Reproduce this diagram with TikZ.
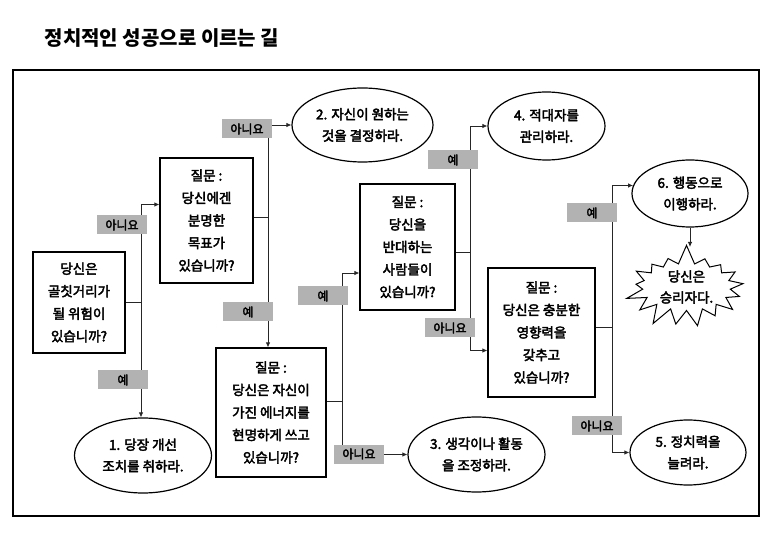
\documentclass[tikz,border=0pt]{standalone}
\usepackage{fontspec}
\setmainfont{Noto Sans CJK KR}
\newfontfamily\krmed{Noto Sans CJK KR}[FakeBold=3]
\usetikzlibrary{positioning, arrows.meta, shapes.geometric, shapes.symbols}

\begin{document}
\begin{tikzpicture}[x=1pt, y=-1pt,
    box/.style={draw, line width=1.2pt, align=center, inner sep=2pt,
      font=\krmed\fontsize{13.5}{22.5}\selectfont},
    goal/.style={draw, ellipse, line width=1.2pt, align=center, inner sep=0pt,
      font=\krmed\fontsize{13.5}{21.5}\selectfont},
    tag/.style={fill=black!30, inner sep=0pt, minimum width=50pt, minimum height=19pt,
      font=\krmed\fontsize{12}{12}\selectfont},
    line/.style={line width=0.8pt, black!85},
    arr/.style={line, -{Latex[length=5pt, width=4.5pt]}}]
    \useasboundingbox (0,0) rectangle (777,537);
    \node[font=\fontsize{20}{20}\selectfont\bfseries] (title) at (162,38) {정치적인 성공으로 이르는 길};
    \draw[line width=1.3pt] (13,70) rectangle (759,516);
    % questions
    \node[box, minimum width=92pt, minimum height=101pt]  (risk)   at (79,302.5)  {당신은\\골칫거리가\\될 위험이\\있습니까?};
    \node[box, minimum width=93pt, minimum height=125pt]  (aim)    at (206.5,220.5) {질문 :\\당신에겐\\분명한\\목표가\\있습니까?};
    \node[box, minimum width=110pt, minimum height=129pt] (energy) at (271,412.5) {질문 :\\당신은 자신이\\가진 에너지를\\현명하게 쓰고\\있습니까?};
    \node[box, minimum width=95pt, minimum height=126pt]  (oppose) at (407.5,247) {질문 :\\당신을\\반대하는\\사람들이\\있습니까?};
    \node[box, minimum width=107pt, minimum height=129pt] (power)  at (541.5,332.5) {질문 :\\당신은 충분한\\영향력을\\갖추고\\있습니까?};
    % answers
    \node[goal, minimum width=137pt, minimum height=75pt] (fix)    at (143,455.5) {1. 당장 개선\\조치를 취하라.};
    \node[goal, minimum width=141pt, minimum height=74pt] (decide) at (362.5,125) {2. 자신이 원하는\\것을 결정하라.};
    \node[goal, minimum width=137pt, minimum height=75pt] (adjust) at (476.5,454.5) {3. 생각이나 활동\\을 조정하라.};
    \node[goal, minimum width=117pt, minimum height=68pt] (manage) at (546.5,126) {4. 적대자를\\관리하라.};
    \node[goal, minimum width=116pt, minimum height=65pt] (grow)   at (688,452.5) {5. 정치력을\\늘려라.};
    \node[goal, minimum width=116pt, minimum height=67pt] (act)    at (690,193.5) {6. 행동으로\\이행하라.};
    \node[starburst, draw, line width=1pt, starburst points=17, starburst point height=20pt,
      random starburst=7, minimum width=128pt, minimum height=75pt, inner sep=0pt, align=center,
      font=\krmed\fontsize{13.5}{21}\selectfont] (win) at (686.5,287) {당신은\\승리자다.};
    % branch lines
    \coordinate (s1) at (141,0);
    \coordinate (s2) at (268,0);
    \coordinate (s3) at (342,0);
    \coordinate (s4) at (470,0);
    \coordinate (s5) at (612,0);
    \draw[line] (risk.east) -- (risk.east -| s1) coordinate (b1);
    \draw[arr] (b1) |- ([yshift=16pt]aim.west);
    \draw[arr] (b1) -- (b1 |- fix.north);
    \draw[line] ([yshift=3pt]aim.east) -- ([yshift=3pt]aim.east -| s2) coordinate (b2);
    \draw[arr] (b2) |- (decide.west);
    \draw[arr] (b2) -- (b2 |- energy.north);
    \draw[line] ([yshift=11pt]energy.east) -- ([yshift=11pt]energy.east -| s3) coordinate (b3);
    \draw[arr] (b3) |- ([yshift=-26pt]oppose.west);
    \draw[arr] (b3) |- (adjust.west);
    \draw[line] ([yshift=-5pt]oppose.east) -- ([yshift=-5pt]oppose.east -| s4) coordinate (b4);
    \draw[arr] (b4) |- (manage.west);
    \draw[arr] (b4) |- ([yshift=-18pt]power.west);
    \draw[line] ([yshift=5pt]power.east) -- ([yshift=5pt]power.east -| s5) coordinate (b5);
    \draw[arr] (b5) |- (act.172);
    \draw[arr] (b5) |- (grow.west);
    \draw[arr] (act.south) -- (act.south |- 0,247);
    % yes / no tags
    \node[tag] (no1)  at (122,225) {아니요};
    \node[tag] (yes1) at (123,380) {예};
    \node[tag] (no2)  at (247,129) {아니요};
    \node[tag] (yes2) at (248,312) {예};
    \node[tag] (yes3) at (323,296) {예};
    \node[tag] (no3)  at (359,454) {아니요};
    \node[tag] (yes4) at (453,160) {예};
    \node[tag] (no4)  at (450,328) {아니요};
    \node[tag] (yes5) at (592,213) {예};
    \node[tag] (no5)  at (597,426) {아니요};
\end{tikzpicture}
\end{document}
